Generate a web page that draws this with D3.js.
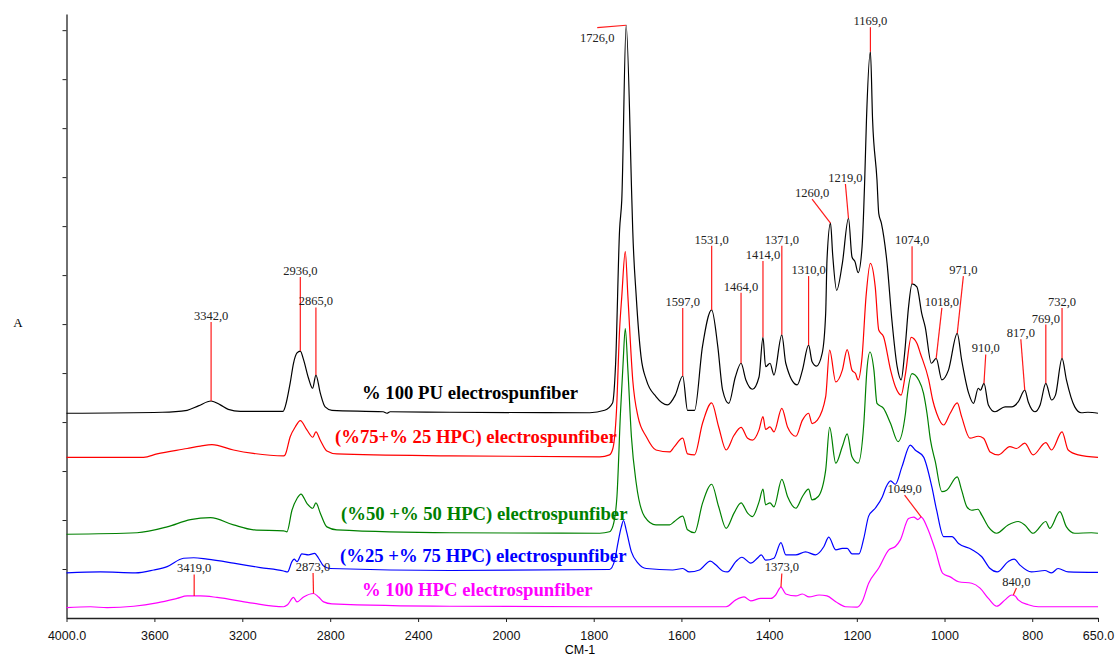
<!DOCTYPE html>
<html>
<head>
<meta charset="utf-8">
<script src="https://cdn.jsdelivr.net/npm/d3@7"></script>
<style>
  body { margin: 0; background: #fff; }
  .serif { font-family: "Liberation Serif", "Times New Roman", "DejaVu Serif", serif; }
  .sans { font-family: "Liberation Sans", Arial, sans-serif; }
</style>
</head>
<body>
<svg id="chart" width="1117" height="657"></svg>
<script>
// x axis tick values (cm-1); the scale changes at 2000
const xTicks = [4000, 3600, 3200, 2800, 2400, 2000, 1800, 1600, 1400, 1200, 1000, 800, 650];

// spectra, [wavenumber, absorbance] (already stacked)
const pu100 = [[4000,0.418],[3564,0.420],[3451,0.424],[3400,0.433],[3342,0.443],[3300,0.435],[3264,0.426],[3209,0.422],[3014,0.422],[3005,0.431],[2982,0.480],[2967,0.520],[2951,0.541],[2936,0.545],[2921,0.527],[2899,0.490],[2880,0.469],[2865,0.496],[2845,0.459],[2823,0.431],[2792,0.424],[2559,0.421],[2542,0.418],[2527,0.421],[2255,0.420],[1809,0.419],[1775,0.424],[1757,0.439],[1750,0.520],[1741,0.792],[1736,0.853],[1726,1.210],[1713,0.853],[1711,0.792],[1703,0.656],[1692,0.533],[1680,0.486],[1658,0.452],[1632,0.435],[1614,0.455],[1597,0.494],[1586,0.424],[1570,0.424],[1552,0.554],[1531,0.629],[1517,0.554],[1506,0.465],[1492,0.438],[1477,0.492],[1464,0.520],[1453,0.486],[1438,0.467],[1423,0.492],[1414,0.573],[1408,0.513],[1398,0.520],[1389,0.496],[1371,0.578],[1362,0.520],[1336,0.476],[1324,0.506],[1310,0.557],[1302,0.523],[1292,0.514],[1279,0.540],[1271,0.622],[1268,0.731],[1260,0.806],[1255,0.741],[1246,0.669],[1233,0.724],[1219,0.816],[1211,0.737],[1204,0.727],[1197,0.705],[1188,0.758],[1182,0.894],[1178,1.016],[1169,1.156],[1164,1.016],[1154,0.894],[1150,0.826],[1144,0.806],[1131,0.724],[1120,0.608],[1108,0.513],[1099,0.486],[1091,0.540],[1082,0.635],[1074,0.682],[1063,0.676],[1052,0.622],[1044,0.594],[1030,0.520],[1019,0.530],[1006,0.486],[991,0.506],[971,0.581],[961,0.527],[945,0.459],[934,0.438],[923,0.469],[918,0.465],[910,0.479],[900,0.435],[885,0.421],[862,0.431],[847,0.431],[832,0.441],[817,0.465],[809,0.441],[794,0.421],[782,0.435],[769,0.479],[756,0.445],[747,0.455],[732,0.530],[722,0.486],[703,0.431],[688,0.419],[673,0.420],[650,0.418]];

const pu75 = [[4000,0.328],[3649,0.328],[3588,0.335],[3451,0.346],[3391,0.351],[3338,0.354],[3240,0.343],[3150,0.336],[3012,0.331],[3005,0.333],[2982,0.370],[2959,0.390],[2936,0.403],[2906,0.384],[2879,0.369],[2865,0.380],[2845,0.363],[2815,0.341],[2770,0.335],[2255,0.331],[1786,0.329],[1764,0.333],[1756,0.347],[1748,0.424],[1741,0.588],[1736,0.656],[1728,0.748],[1722,0.656],[1711,0.486],[1699,0.411],[1680,0.370],[1658,0.343],[1627,0.339],[1616,0.350],[1597,0.367],[1586,0.335],[1570,0.333],[1552,0.397],[1531,0.439],[1515,0.390],[1498,0.343],[1480,0.373],[1464,0.389],[1449,0.367],[1438,0.363],[1423,0.384],[1414,0.411],[1408,0.385],[1398,0.390],[1389,0.380],[1371,0.428],[1358,0.390],[1339,0.371],[1324,0.404],[1310,0.418],[1302,0.397],[1290,0.404],[1271,0.452],[1262,0.547],[1248,0.482],[1233,0.506],[1222,0.548],[1211,0.506],[1203,0.499],[1197,0.486],[1188,0.533],[1179,0.656],[1169,0.724],[1158,0.676],[1150,0.588],[1139,0.574],[1123,0.506],[1112,0.472],[1099,0.455],[1089,0.499],[1076,0.573],[1063,0.561],[1055,0.540],[1036,0.486],[1027,0.445],[1018,0.418],[1002,0.394],[987,0.418],[971,0.439],[961,0.411],[942,0.367],[923,0.371],[911,0.367],[896,0.339],[877,0.333],[851,0.350],[836,0.346],[817,0.357],[798,0.333],[769,0.358],[756,0.343],[732,0.380],[718,0.343],[695,0.333],[650,0.328]];

const pu50 = [[4000,0.171],[3679,0.174],[3542,0.186],[3436,0.201],[3345,0.205],[3240,0.190],[3149,0.180],[3012,0.178],[2997,0.176],[2974,0.220],[2951,0.244],[2933,0.253],[2906,0.234],[2879,0.224],[2865,0.235],[2845,0.214],[2815,0.186],[2770,0.180],[2255,0.174],[1786,0.173],[1764,0.176],[1756,0.188],[1747,0.248],[1739,0.418],[1733,0.520],[1728,0.591],[1722,0.506],[1714,0.370],[1703,0.275],[1684,0.207],[1658,0.190],[1627,0.190],[1616,0.197],[1597,0.208],[1586,0.180],[1570,0.174],[1552,0.234],[1531,0.273],[1515,0.227],[1498,0.183],[1480,0.214],[1464,0.235],[1449,0.214],[1438,0.207],[1423,0.237],[1414,0.263],[1408,0.231],[1398,0.235],[1389,0.227],[1371,0.283],[1358,0.248],[1339,0.224],[1324,0.248],[1310,0.263],[1302,0.241],[1288,0.248],[1271,0.302],[1262,0.389],[1248,0.316],[1233,0.350],[1222,0.376],[1211,0.329],[1197,0.316],[1184,0.397],[1177,0.506],[1170,0.543],[1161,0.506],[1154,0.438],[1139,0.428],[1123,0.397],[1106,0.360],[1089,0.418],[1086,0.445],[1074,0.499],[1059,0.486],[1048,0.459],[1040,0.418],[1032,0.363],[1021,0.319],[1006,0.258],[995,0.261],[971,0.288],[961,0.261],[949,0.227],[938,0.220],[924,0.222],[915,0.210],[900,0.186],[881,0.173],[855,0.190],[832,0.197],[817,0.190],[798,0.173],[769,0.197],[760,0.183],[737,0.217],[722,0.186],[703,0.173],[665,0.174],[650,0.173]];

const pu25 = [[4000,0.092],[3845,0.094],[3686,0.092],[3603,0.098],[3542,0.105],[3467,0.122],[3421,0.123],[3360,0.120],[3240,0.112],[3118,0.103],[3012,0.096],[2994,0.094],[2974,0.115],[2964,0.120],[2951,0.115],[2929,0.131],[2899,0.129],[2871,0.132],[2853,0.122],[2830,0.106],[2800,0.101],[2255,0.097],[1764,0.099],[1752,0.118],[1745,0.152],[1737,0.186],[1732,0.199],[1726,0.180],[1714,0.135],[1699,0.112],[1680,0.101],[1620,0.098],[1597,0.101],[1582,0.094],[1559,0.098],[1534,0.116],[1521,0.108],[1506,0.096],[1495,0.094],[1476,0.115],[1462,0.124],[1442,0.112],[1427,0.122],[1418,0.129],[1408,0.118],[1389,0.122],[1373,0.154],[1362,0.129],[1339,0.129],[1317,0.135],[1294,0.129],[1275,0.146],[1264,0.165],[1248,0.139],[1233,0.142],[1222,0.142],[1211,0.131],[1195,0.131],[1184,0.163],[1173,0.208],[1158,0.224],[1142,0.247],[1133,0.268],[1123,0.280],[1112,0.273],[1097,0.309],[1078,0.353],[1067,0.343],[1048,0.329],[1029,0.268],[1018,0.220],[1002,0.166],[983,0.166],[968,0.152],[938,0.140],[915,0.125],[896,0.101],[880,0.094],[855,0.115],[841,0.120],[828,0.108],[802,0.094],[771,0.097],[756,0.092],[741,0.101],[718,0.094],[650,0.093]];

const hpc100 = [[4000,0.021],[3891,0.023],[3815,0.021],[3694,0.024],[3588,0.031],[3497,0.040],[3451,0.045],[3419,0.045],[3391,0.045],[3315,0.042],[3164,0.031],[3012,0.023],[2994,0.027],[2967,0.042],[2951,0.033],[2921,0.043],[2876,0.050],[2853,0.043],[2830,0.033],[2792,0.029],[2255,0.024],[1802,0.023],[1498,0.023],[1476,0.037],[1457,0.043],[1442,0.035],[1419,0.040],[1396,0.040],[1385,0.047],[1373,0.063],[1362,0.049],[1339,0.045],[1324,0.049],[1309,0.043],[1286,0.047],[1268,0.045],[1248,0.033],[1226,0.023],[1199,0.022],[1188,0.033],[1173,0.071],[1150,0.102],[1127,0.139],[1112,0.146],[1101,0.159],[1082,0.203],[1070,0.206],[1061,0.201],[1053,0.206],[1040,0.186],[1021,0.139],[1004,0.091],[987,0.084],[968,0.074],[938,0.071],[919,0.061],[900,0.040],[881,0.024],[862,0.037],[847,0.047],[839,0.045],[832,0.037],[809,0.027],[786,0.023],[665,0.023],[650,0.023]];

const seriesNames = [
  "% 100 PU electrospunfiber",
  "(%75+% 25 HPC) electrospunfiber",
  "(%50 +% 50 HPC) electrospunfiber",
  "(%25 +% 75 HPC) electrospunfiber",
  "% 100 HPC electrospunfiber"
];

// peak annotations: [label, peak cm-1, peak A, label cm-1, label A]
const puPeaks = [
  ["3342,0", 3342, 0.443, 3342, 0.604],
  ["2936,0", 2936, 0.545, 2936, 0.696],
  ["2865,0", 2865, 0.496, 2865, 0.634],
  ["1726,0", 1726, 1.210, 1792, 1.205],
  ["1597,0", 1597, 0.494, 1597, 0.633],
  ["1531,0", 1531, 0.629, 1531, 0.760],
  ["1464,0", 1464, 0.520, 1464, 0.664],
  ["1414,0", 1414, 0.573, 1414, 0.729],
  ["1371,0", 1371, 0.578, 1371, 0.760],
  ["1310,0", 1310, 0.557, 1310, 0.698],
  ["1260,0", 1260, 0.806, 1302, 0.855],
  ["1219,0", 1219, 0.816, 1226, 0.886],
  ["1169,0", 1169, 1.156, 1169, 1.206],
  ["1074,0", 1074, 0.682, 1074, 0.759],
  ["1018,0", 1019, 0.530, 1006, 0.633],
  ["971,0", 971, 0.581, 957, 0.698],
  ["910,0", 910, 0.479, 906, 0.538],
  ["817,0", 817, 0.465, 826, 0.569],
  ["769,0", 769, 0.479, 769, 0.599],
  ["732,0", 732, 0.530, 732, 0.633]
];
const hpcPeaks = [
  ["3419,0", 3419, 0.045, 3419, 0.089],
  ["2873,0", 2876, 0.050, 2878, 0.092],
  ["1373,0", 1373, 0.063, 1371, 0.091],
  ["1049,0", 1053, 0.206, 1091, 0.251],
  ["840,0", 843, 0.047, 836, 0.061]
];

const colors = ["#000000", "#ff0000", "#008000", "#0000ff", "#ff00ff"];
const nameX = [362, 335, 341, 340, 362];
const nameY = [399, 443, 520, 562, 596];

const svg = d3.select("#chart");
const x = d3.scaleLinear().domain([4000, 2000, 650]).range([66.5, 506, 1098]);
const y = d3.scaleLinear().domain([0, 1.233]).range([618, 14]);

// axes
const xAxis = svg.append("g")
  .attr("transform", "translate(0,618)")
  .call(d3.axisBottom(x).tickValues(xTicks).tickSize(4).tickSizeOuter(0).tickPadding(9)
    .tickFormat(d => (d === 4000 || d === 650) ? d.toFixed(1) : String(d)));
xAxis.select(".domain").attr("stroke", "#222").attr("stroke-width", 1.3);
xAxis.selectAll("line").attr("stroke", "#222");
xAxis.selectAll("text").attr("class", "sans").attr("font-family", null).attr("font-size", 12.5).attr("fill", "#111");

const yAxis = svg.append("g")
  .attr("transform", "translate(66.5,0)")
  .call(d3.axisLeft(y).tickValues(d3.range(1, 13).map(d => d / 10)).tickSize(4).tickSizeOuter(0).tickFormat(""));
yAxis.select(".domain").attr("stroke", "#222").attr("stroke-width", 1.3);
yAxis.selectAll("line").attr("stroke", "#222");

svg.append("text").attr("class", "sans").attr("x", 580).attr("y", 654).attr("text-anchor", "middle")
  .attr("font-size", 12.5).text("CM-1");
svg.append("text").attr("class", "serif").attr("x", 18).attr("y", 327).attr("text-anchor", "middle")
  .attr("font-size", 13).text("A");

// spectra
const line = d3.line().x(d => x(d[0])).y(d => y(d[1])).curve(d3.curveMonotoneX);
[pu100, pu75, pu50, pu25, hpc100].forEach((s, i) => {
  svg.append("path").datum(s).attr("d", line)
    .attr("fill", "none").attr("stroke", colors[i]).attr("stroke-width", 1.2);
});

// series names
seriesNames.forEach((n, i) => {
  svg.append("text").attr("class", "serif").attr("x", nameX[i]).attr("y", nameY[i])
    .style("white-space", "pre")
    .attr("font-weight", "bold")
    .attr("font-size", 18.7).attr("fill", colors[i]).text(n);
});

// peak labels with red leaders
const peaks = svg.append("g");
puPeaks.concat(hpcPeaks).forEach(p => {
  peaks.append("line")
    .attr("x1", x(p[1])).attr("y1", y(p[2]))
    .attr("x2", x(p[3])).attr("y2", y(p[4]))
    .attr("stroke", "#ff1a1a").attr("stroke-width", 1.2);
  const below = p[0] === "1726,0";
  peaks.append("text").attr("class", "serif")
    .attr("x", x(p[3])).attr("y", below ? y(p[4]) + 14 : y(p[4]) - 2)
    .attr("text-anchor", "middle")
    .attr("font-size", 12.5)
    .attr("fill", "#222").text(p[0]);
});
</script>
</body>
</html>
